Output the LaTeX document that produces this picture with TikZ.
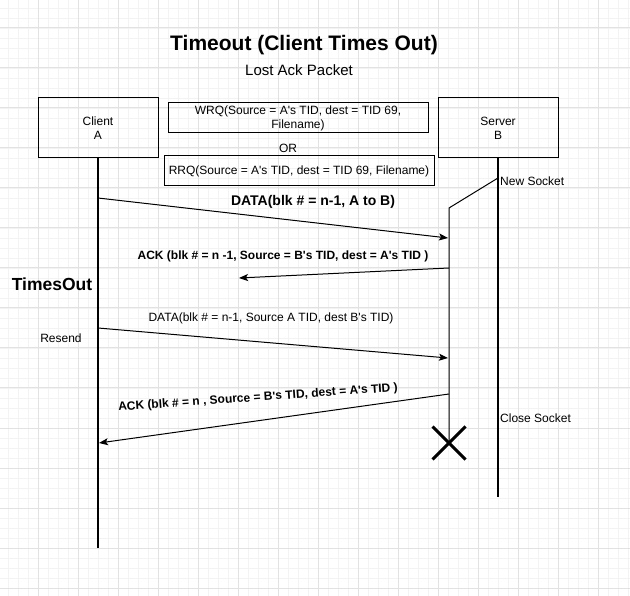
\documentclass[tikz,border=0pt]{standalone}
\usepackage{fontspec}
\setmainfont{Liberation Sans}[Ligatures=TeXOff]
\usetikzlibrary{arrows.meta,shapes.misc}
\definecolor{gridminor}{HTML}{F3F3F3}
\definecolor{gridmajor}{HTML}{E2E2E2}
\tikzset{
  gminor/.style={draw=gridminor,line width=0.8},
  gmajor/.style={draw=gridmajor,line width=1},
  actor/.style={draw,line width=1,minimum width=120,minimum height=60,align=center,font=\fontsize{12}{14}\selectfont},
  msgbox/.style={draw,line width=1,minimum height=30,align=center,inner sep=2,font=\fontsize{12}{14}\selectfont},
  life/.style={line width=1.4},
  msg/.style={line width=1,-{Stealth[length=9,width=7,inset=2]}},
  lbl/.style={font=\fontsize{12}{14}\selectfont,inner sep=0},
  blbl/.style={font=\fontsize{12}{14}\selectfont\bfseries,inner sep=0},
}
\begin{document}
\begin{tikzpicture}[x=1pt,y=-1pt]
\useasboundingbox (0,0) rectangle (630,596);
\fill[white] (0,0) rectangle (630,596);
% grid
\foreach \x in {8,18,...,628} \draw[gminor] (\x,0) -- (\x,596);
\foreach \y in {8,18,...,596} \draw[gminor] (0,\y) -- (630,\y);
\foreach \x in {38,78,...,630} \draw[gmajor] (\x,0) -- (\x,596);
\foreach \y in {28,68,...,596} \draw[gmajor] (0,\y) -- (630,\y);

% titles
\node[inner sep=0,font=\fontsize{21}{24}\selectfont\bfseries] (title) at (304,45) {Timeout (Client Times Out)};
\node[inner sep=0,font=\fontsize{15}{17}\selectfont] (sub) at (299,70) {Lost Ack Packet};

% actors
\node[actor] (client) at (98,128) {Client\\A};
\node[actor] (server) at (498,128) {Server\\B};

% request boxes
\node[msgbox,minimum width=260] (wrq) at (298,118) {WRQ(Source = A's TID, dest = TID 69,\\Filename)};
\node[lbl] (or) at (288,148) {OR};
\node[msgbox,minimum width=270] (rrq) at (299,171) {RRQ(Source = A's TID, dest = TID 69, Filename)};

% lifelines
\coordinate (cend) at (98,548);
\coordinate (send) at (498,497);
\draw[life] (client.south) -- (cend);
\draw[life] (server.south) -- (send);

% new socket
\coordinate (ns) at (498,178);
\coordinate (nsk) at (449,208);
\coordinate (xc) at (449,443);
\draw[line width=1] (ns) -- (nsk) -- (xc);
\node[lbl,anchor=west] (nslbl) at (500,181) {New Socket};
\node[cross out,draw,line width=3,minimum size=30,inner sep=0] (x) at (xc) {};
\node[lbl,anchor=west] (cslbl) at (500,418) {Close Socket};

% message 1
\coordinate (m1s) at (98,198);
\coordinate (m1e) at (448,238);
\draw[msg] (m1s) -- (m1e);
\node[inner sep=0,font=\fontsize{14}{16}\selectfont\bfseries] (m1l) at (313,202) {DATA(blk \# = n-1, A to B)};

% message 2 (lost ack)
\coordinate (m2s) at (449,268);
\coordinate (m2e) at (239,278);
\draw[msg] (m2s) -- (m2e);
\node[blbl] (m2l) at (283,256) {ACK (blk \# = n -1, Source = B's TID, dest = A's TID )};

% timeout
\node[inner sep=0,font=\fontsize{17.5}{20}\selectfont\bfseries] (to) at (52,284) {TimesOut};
\node[lbl] (rs) at (61,338) {Resend};

% message 3
\coordinate (m3s) at (98,328);
\coordinate (m3e) at (448,358);
\draw[msg] (m3s) -- (m3e);
\node[lbl] (m3l) at (271,318) {DATA(blk \# = n-1, Source A TID, dest B's TID)};

% message 4
\coordinate (m4s) at (449,394);
\coordinate (m4e) at (99,443);
\draw[msg] (m4s) -- (m4e);
\node[blbl,rotate=4] (m4l) at (258,398) {ACK (blk \# = n , Source = B's TID, dest = A's TID )};
\end{tikzpicture}
\end{document}
